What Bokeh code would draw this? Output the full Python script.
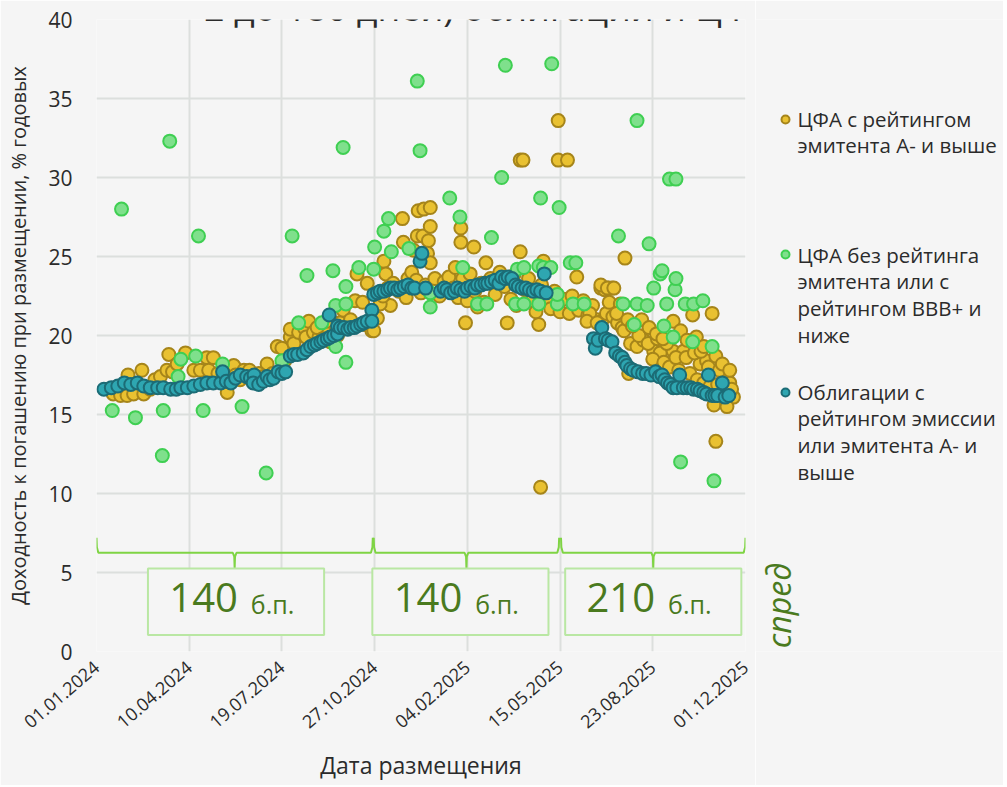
import math
from bokeh.plotting import figure
from bokeh.layouts import row
from bokeh.models import Range1d, FixedTicker, ColumnDataSource, Label
from bokeh.core.properties import value
from bokeh.embed import file_html
from bokeh.resources import INLINE

# ---------------- data (x = days since 01.01.2024, y = YTM, % p.a.) ----------------
tick_days = [0, 100, 200, 300, 400, 500, 600, 700]
tick_labels = ["01.01.2024", "10.04.2024", "19.07.2024", "27.10.2024",
               "04.02.2025", "15.05.2025", "23.08.2025", "01.12.2025"]
y_ticks = [0, 5, 10, 15, 20, 25, 30, 35, 40]

series_names = [["ЦФА с рейтингом", "эмитента А- и выше"],
                ["ЦФА без рейтинга", "эмитента или с", "рейтингом ВВВ+ и", "ниже"],
                ["Облигации с", "рейтингом эмиссии", "или эмитента  А- и", "выше"]]

cfa_a_day = [18, 26, 33, 40, 34, 51, 49, 58, 63, 69, 78, 76, 82, 87, 96, 105, 112, 119, 126, 121,
             131, 141, 148, 159, 163, 170, 184, 190, 150, 155, 175, 165, 180, 195, 200, 203, 209,
             213, 209, 218, 224, 229, 226, 234, 240, 245, 250, 256, 263, 266, 270, 274, 260, 252,
             238, 244, 248, 279, 281, 287, 292, 289, 297, 303, 310, 312, 317,
             299, 306, 309, 314, 320, 326, 330, 331, 342, 347, 353, 360, 346, 352, 360, 358, 357,
             360, 336, 340, 334, 345, 350, 355, 365, 370, 375, 380, 387, 393, 393, 407, 398, 411,
             420, 443, 457, 477, 482, 498, 498, 508, 457, 460, 518, 544, 548, 552, 556, 570,
             385, 390, 395, 400, 403, 408, 415, 418, 425, 430, 435, 440, 447, 450, 453, 462, 466,
             470, 474, 480, 486, 490, 494, 500, 504, 510, 513, 520, 525, 530, 535, 540, 545, 550,
             557, 562, 567, 553,
             544, 551, 558, 565, 561, 532, 529, 540, 569, 576, 583, 590, 601, 608, 622, 630, 622,
             633, 643, 664, 651, 658, 680, 687, 666, 680, 668, 479, 574,
             585, 595, 600, 605, 612, 615, 618, 625, 628, 636, 640, 645, 648, 652, 655, 660, 662,
             670, 672, 676, 683, 685, 573, 578, 588, 596, 604, 611, 637, 647, 655, 668, 675, 683]
cfa_a_ytm = [16.3, 16.2, 16.2, 16.3, 17.5, 16.3, 17.8, 16.6, 17.2, 17.4, 18.8, 17.8, 17.7, 18.2,
             18.9, 17.8, 17.8, 18.6, 18.6, 17.8, 17.6, 16.4, 18.1, 17.8, 17.4, 17.1, 18.2, 17.6,
             17.5, 17.2, 17.6, 17.8, 17.4, 19.3, 19.2, 18.4, 19.9, 19.5, 20.4, 20.2, 20.5, 20.9,
             19.9, 20.2, 19.9, 20.4, 20.3, 20.8, 20.8, 21.6, 20.6, 21.0, 20.0, 19.6, 20.5, 19.8,
             20.9, 22.2, 23.9, 22.1, 23.3, 20.7, 20.3, 21.1, 24.7, 23.9, 21.9,
             20.3, 22.0, 22.5, 23.0, 23.3, 22.8, 27.4, 25.9, 25.4, 27.9, 28.0, 28.1, 26.3, 26.3,
             26.9, 26.0, 25.2, 24.6, 23.6, 24.0, 22.4, 23.5, 22.7, 23.2, 23.6, 22.5, 23.4, 23.7,
             24.3, 26.8, 25.9, 25.6, 20.8, 21.8, 24.6, 20.8, 25.3, 20.7, 24.7, 33.6, 31.1, 31.1,
             31.1, 31.1, 23.7, 23.0, 22.9, 23.0, 23.0, 24.9,
             23.0, 22.4, 23.6, 22.2, 23.9, 22.8, 23.3, 22.1, 23.6, 22.6, 24.0, 23.1, 22.3, 23.8,
             21.9, 22.9, 23.6, 22.2, 21.5, 23.2, 22.4, 21.7, 22.8, 21.5, 22.3, 21.4, 22.5, 21.6,
             22.2, 21.3, 21.9, 21.0, 20.9, 21.4, 21.2, 20.8, 20.5, 22.1,
             23.2, 23.0, 23.0, 22.0, 21.4, 21.4, 20.9, 20.8, 20.3, 19.5, 19.3, 19.7, 19.0, 18.9,
             20.9, 20.3, 19.0, 19.0, 21.3, 21.4, 18.2, 18.4, 17.5, 16.1, 15.6, 15.5, 13.3, 10.4,
             17.6,
             20.0, 19.5, 18.5, 19.8, 18.3, 19.5, 18.0, 18.6, 17.8, 18.6, 17.6, 18.9, 17.2, 19.0,
             17.0, 18.0, 16.8, 16.9, 17.8, 16.4, 17.0, 16.6, 21.0, 20.6, 21.0, 20.5, 20.1, 19.8,
             19.7, 19.9, 19.3, 18.7, 18.2, 17.8]

cfa_nr_day = [27, 17, 42, 71, 72, 79, 88, 91, 107, 110, 115, 136, 157, 183, 200, 211, 218, 227,
              243, 255, 258, 258, 266, 269, 269, 269, 283, 299, 300, 310, 315, 318, 337, 346,
              349, 360, 360, 381, 392, 395, 411, 421, 426, 437, 441, 452, 454, 461, 461, 477,
              477, 479, 482, 490, 491, 497, 497, 499, 511, 517, 514, 526, 563, 568, 580, 583,
              583, 594, 596, 601, 608, 610, 612, 615, 618, 622, 624, 625, 625, 630, 635, 643,
              644, 654, 664, 666]
cfa_nr_ytm = [28.0, 15.25, 14.8, 12.4, 15.25, 32.3, 17.4, 18.5, 18.7, 26.3, 15.25, 18.2, 15.5,
              11.3, 18.4, 26.3, 20.8, 23.8, 20.8, 24.1, 19.3, 21.9, 31.9, 23.1, 22.0, 18.3, 24.3,
              24.2, 25.6, 26.6, 27.4, 25.3, 25.5, 36.1, 31.7, 21.8, 22.7, 28.7, 27.5, 24.3, 22.0,
              22.0, 26.2, 30.0, 37.1, 22.0, 24.2, 22.0, 24.3, 22.0, 24.4, 28.7, 24.3, 24.3, 37.2,
              22.0, 22.6, 28.1, 24.6, 24.6, 22.0, 22.0, 26.3, 22.0, 20.7, 33.6, 22.0, 21.9, 25.8,
              23.0, 23.9, 24.1, 20.6, 22.0, 29.9, 19.9, 22.9, 23.6, 29.9, 12.0, 22.0, 19.6, 22.0,
              22.2, 19.3, 10.8]

bond_day = [8, 16, 23, 30, 37, 44, 51, 58, 66, 72, 80, 86, 91, 98, 105, 112, 119, 126, 134, 136,
            140, 145, 150, 155, 162, 166, 170, 169, 175, 180, 184, 187, 191, 196, 200, 204, 209,
            213, 217, 223, 227, 231, 235, 238, 242, 245, 249, 252, 251, 256, 260, 260, 263, 267,
            271, 274, 278, 281, 285, 288, 292, 297, 297, 299, 303, 306, 310, 314, 317, 321, 325,
            328, 332, 336, 340, 343, 349, 351, 355, 371, 375, 378, 382, 386, 389, 393, 397, 400,
            404, 408, 411, 415, 419, 422, 426, 430, 434, 437, 441, 444, 448, 452, 455, 459, 463,
            467, 471, 475, 479, 483, 485,
            536, 538, 541, 545, 549, 552, 556, 560, 564, 567, 570, 572, 576, 579, 584, 589, 593,
            598, 603, 607, 610, 613, 616, 619, 622, 626, 629, 633, 637, 641, 644, 648, 651, 655,
            658, 660, 664, 667, 670, 675, 678, 682]
bond_ytm = [16.6, 16.7, 16.8, 17.0, 16.9, 17.0, 16.8, 16.7, 16.7, 16.7, 16.6, 16.6, 16.7, 16.7,
            16.8, 16.9, 17.0, 17.0, 17.0, 17.7, 17.1, 17.0, 17.3, 17.5, 17.4, 17.3, 17.5, 17.0,
            16.9, 17.1, 17.4, 17.2, 17.3, 17.7, 17.6, 17.7, 18.7, 18.8, 18.8, 18.9, 19.1, 19.3,
            19.4, 19.5, 19.6, 19.7, 19.8, 19.9, 21.3, 20.0, 20.1, 20.6, 20.5, 20.5, 20.4, 20.5,
            20.5, 20.6, 20.7, 20.8, 20.9, 21.6, 20.9, 22.6, 22.7, 22.8, 22.8, 22.9, 23.0, 23.0,
            22.9, 23.0, 23.1, 23.2, 23.0, 23.0, 24.7, 25.2, 23.0, 22.8, 23.0, 22.9, 22.7, 22.8,
            23.0, 22.9, 22.8, 23.0, 23.1, 23.0, 23.2, 23.2, 23.3, 23.3, 23.4, 23.5, 23.3, 23.7,
            23.6, 23.7, 23.6, 23.2, 23.1, 23.0, 23.0, 22.9, 22.8, 22.9, 22.8, 23.9, 22.7,
            19.8, 19.2, 19.7, 20.5, 19.8, 19.7, 19.6, 18.9, 18.7, 18.6, 18.3, 18.1, 17.9, 17.8,
            17.7, 17.6, 17.6, 17.5, 17.7, 17.4, 17.5, 17.2, 17.0, 16.9, 16.7, 16.7, 17.5, 16.7,
            16.7, 16.7, 16.6, 16.6, 16.5, 16.4, 16.3, 17.5, 16.2, 16.2, 16.2, 17.0, 16.1, 16.2]

# spread annotations: periods (days) and spread in b.p.
spread_start = [0, 299, 501]
spread_end = [298, 499, 700]
spread_bp = ["140", "140", "210"]
spread_unit = "б.п."
spread_word = "спред"

# ---------------- style ----------------
BG = "#f5f5f5"
GRID = "#dcdfdd"
FONT = "Open Sans"
TXT = "#2b2b2b"
Y_FILL, Y_LINE = "#e9c131", "#a6851a"
G_FILL, G_LINE = "#7fe08c", "#3fcf52"
T_FILL, T_LINE = "#2ea6b1", "#1c6c76"
BRACE = "#7fd444"
BOX_LINE = "#b9e7a3"
DARK_GREEN = "#4a7a1e"
BOX_SHIFT = [1.5, -6.5, 0]   # box centre offset from brace tip (days)

H = 785
TOP, BOTTOM = 19, 134
PW = 755
p = figure(width=PW, height=H, x_range=Range1d(0, 700), y_range=Range1d(0, 40),
           output_backend="svg", toolbar_location=None,
           min_border_left=96, min_border_right=10, min_border_top=TOP, min_border_bottom=BOTTOM,
           background_fill_color=BG, border_fill_color=BG)
p.outline_line_color = None

# grid
p.xgrid.ticker = FixedTicker(ticks=tick_days)
p.ygrid.ticker = FixedTicker(ticks=y_ticks)
for g in (p.xgrid, p.ygrid):
    g.grid_line_color = GRID
    g.grid_line_width = 2

# axes
p.xaxis.ticker = FixedTicker(ticks=tick_days)
p.xaxis.major_label_overrides = {d: l for d, l in zip(tick_days, tick_labels)}
p.xaxis.major_label_orientation = 0.71
p.yaxis.ticker = FixedTicker(ticks=y_ticks)
for ax in (p.xaxis, p.yaxis):
    ax.axis_line_color = None
    ax.major_tick_line_color = None
    ax.minor_tick_line_color = None
    ax.major_tick_out = 0
    ax.major_tick_in = 0
    ax.minor_tick_out = 0
    ax.minor_tick_in = 0
    ax.major_label_text_font = FONT
    ax.major_label_text_color = TXT
    ax.axis_label_text_font = FONT
    ax.axis_label_text_font_style = "normal"
    ax.axis_label_text_color = TXT
p.xaxis.major_label_text_font_size = "18px"
p.xaxis.major_label_standoff = 13
p.xaxis.axis_label = "Дата размещения"
p.xaxis.axis_label_text_font_size = "23px"
p.xaxis.axis_label_standoff = 12
p.yaxis.major_label_text_font_size = "21px"
p.yaxis.major_label_standoff = 24
p.yaxis.axis_label = "Доходность к погашению при размещении, % годовых"
p.yaxis.axis_label_text_font_size = "20px"
p.yaxis.axis_label_standoff = 13

# braces and spread boxes (drawn before the points)
BR_TOP, BR_MID, BR_TIP = 7.2, 6.25, 5.25
for a, b in zip(spread_start, spread_end):
    m = (a + b) / 2
    xs = [a, a + 0.4, a + 2.0, m - 2.0, m - 0.4, m, m + 0.4, m + 2.0, b - 2.0, b - 0.4, b]
    ys = [BR_TOP, 6.6, BR_MID, BR_MID, 6.0, BR_TIP, 6.0, BR_MID, BR_MID, 6.6, BR_TOP]
    p.line(xs, ys, line_color=BRACE, line_width=2)

mids = [(a + b) / 2 + s for a, b, s in zip(spread_start, spread_end, BOX_SHIFT)]
p.quad(left=[m - 95 for m in mids], right=[m + 95 for m in mids], bottom=[1.05] * 3,
       top=[BR_TIP] * 3, fill_color=BG, line_color=BOX_LINE, line_width=2)
num_src = ColumnDataSource(dict(x=[m + 2 for m in mids], y=[3.4] * 3, t=spread_bp))
unit_src = ColumnDataSource(dict(x=[m + 16 for m in mids], y=[3.0] * 3, t=[spread_unit] * 3))
p.text("x", "y", text="t", source=num_src, text_align="right", text_baseline="alphabetic",
       text_font=value(FONT), text_font_size="40px", text_color=DARK_GREEN)
p.text("x", "y", text="t", source=unit_src, text_align="left", text_baseline="alphabetic",
       text_font=value(FONT), text_font_size="25px", text_color=DARK_GREEN)

# points
p.scatter(cfa_a_day, cfa_a_ytm, size=13, fill_color=Y_FILL, line_color=Y_LINE, line_width=2)
p.scatter(cfa_nr_day, cfa_nr_ytm, size=13, fill_color=G_FILL, line_color=G_LINE, line_width=2)
p.scatter(bond_day, bond_ytm, size=13, fill_color=T_FILL, line_color=T_LINE, line_width=2)

# clipped title fragment (as in the reference)
p.add_layout(Label(x=423, y=40.76, text="2 до 180 дней) облигации и ЦФА", text_align="center",
                   text_baseline="alphabetic", text_font=FONT, text_font_size="36px",
                   text_color=TXT))

# ---------------- side panel: legend + "спред" (coordinates in page pixels) ----------------
QW = 248
q = figure(width=QW, height=H, x_range=Range1d(PW, PW + QW), y_range=Range1d(H - BOTTOM, TOP),
           output_backend="svg", toolbar_location=None, x_axis_type=None, y_axis_type=None,
           min_border_left=0, min_border_right=0, min_border_top=TOP, min_border_bottom=BOTTOM,
           background_fill_color=BG, border_fill_color=BG)
q.outline_line_color = None
q.grid.visible = False

leg_dot_y = [119, 254, 392]
leg_base_y = [118, 254, 391]
LINE_H = 26.7
fills = [Y_FILL, G_FILL, T_FILL]
lines = [Y_LINE, G_LINE, T_LINE]
q.scatter([785] * 3, leg_dot_y, size=8, fill_color=fills, line_color=lines, line_width=2)
lx, ly, lt = [], [], []
for base, name in zip(leg_base_y, series_names):
    for i, s in enumerate(name):
        lx.append(797)
        ly.append(base + i * LINE_H)
        lt.append(s)
q.text(lx, ly, text=lt, text_align="left", text_baseline="alphabetic",
       text_font=value(FONT), text_font_size="20.5px", text_color=TXT)
q.text([778], [605], text=[spread_word], angle=math.pi / 2, text_align="center",
       text_baseline="alphabetic", text_font=value(FONT), text_font_size="32px",
       text_font_style="italic", text_color=DARK_GREEN)

layout = row(p, q)
open("out.html", "w").write(file_html(layout, INLINE))
